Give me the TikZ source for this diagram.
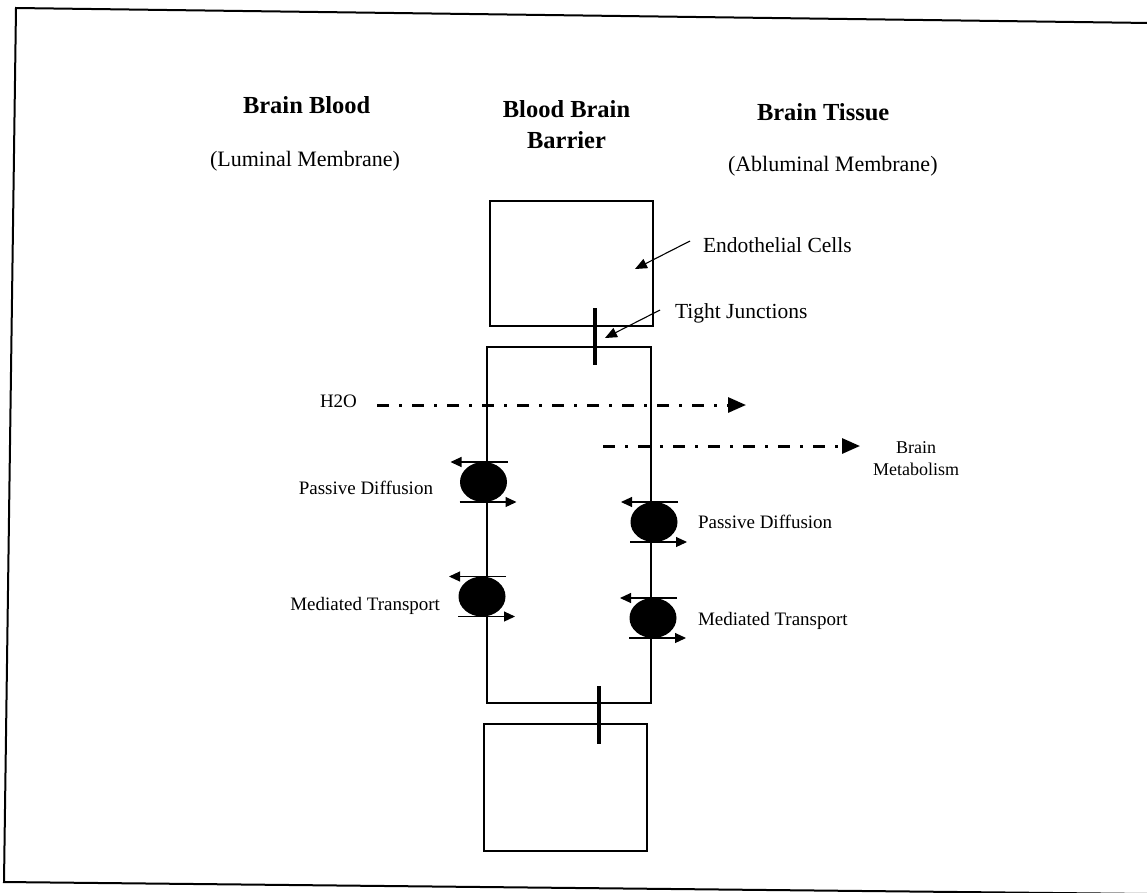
\documentclass[tikz,border=0pt]{standalone}
\usepackage{fontspec}
\setmainfont{Liberation Serif}
\usetikzlibrary{arrows.meta,shapes.geometric}
\begin{document}
\begin{tikzpicture}[x=1pt,y=-1pt,
  cell/.style={draw,line width=1.4pt,inner sep=0pt,outer sep=0pt},
  junc/.style={fill=black,inner sep=0pt,outer sep=0pt,minimum width=4pt},
  chan/.style={ellipse,fill=black,inner sep=0pt,outer sep=0pt,minimum width=47pt,minimum height=40pt},
  carrow/.style={line width=1.1pt,-{Triangle[length=11pt,width=10pt]}},
  ptr/.style={line width=1.1pt,-{Triangle[length=12pt,width=10pt]}},
  flow/.style={line width=3pt,dash pattern=on 12pt off 10pt on 3pt off 10pt,-{Triangle[length=18pt,width=15pt]}},
  head/.style={inner sep=0pt,outer sep=0pt,font=\fontsize{24.5}{31}\selectfont\bfseries},
  sub/.style={inner sep=0pt,outer sep=0pt,font=\fontsize{22}{26}\selectfont},
  lab/.style={inner sep=0pt,outer sep=0pt,font=\fontsize{21.5}{25}\selectfont},
  small/.style={inner sep=0pt,outer sep=0pt,font=\fontsize{19}{22}\selectfont},
  tiny/.style={inner sep=0pt,outer sep=0pt,font=\fontsize{18}{22}\selectfont}
]
\useasboundingbox (0,0) rectangle (1147,892);
% outer frame (slightly skewed scan)
\draw[line width=2pt] (1150,23) -- (16,8) -- (4,882) -- (1150,894);

% headings
\node[head,anchor=base west] (bb) at (243,113) {Brain Blood};
\node[head,anchor=base,align=center] (bbb) at (566.5,148) {Blood Brain\\Barrier};
\node[head,anchor=base west] (bt) at (757,120) {Brain Tissue};
\node[sub,anchor=base west] (lm) at (210,166) {(Luminal Membrane)};
\node[sub,anchor=base west] (am) at (728,171) {(Abluminal Membrane)};

% cells
\node[cell,minimum width=163pt,minimum height=125pt] (topc) at (571.5,263.5) {};
\node[cell,minimum width=164pt,minimum height=356pt] (midc) at (569,525) {};
\node[cell,minimum width=163pt,minimum height=127pt] (botc) at (565.5,787.5) {};

% tight junctions
\node[junc,minimum height=57pt] (tj1) at (595,336.5) {};
\node[junc,minimum height=58pt] (tj2) at (599,715) {};

% labels with pointers
\node[lab,anchor=base west] (ec) at (703,252) {Endothelial Cells};
\node[lab,anchor=base west] (tj) at (675,318) {Tight Junctions};
\coordinate (ecs) at (690,241);
\coordinate (ect) at (635,269);
\coordinate (tjs) at (660,310);
\coordinate (tjt) at (605,338);
\draw[ptr] (ecs) -- (ect);
\draw[ptr] (tjs) -- (tjt);

% flows
\node[small,anchor=base west] (h2o) at (320,407) {H2O};
\coordinate (f1s) at (377,405);
\coordinate (f1e) at (746,405);
\draw[flow] (f1s) -- (f1e);
\node[tiny,anchor=base,align=center] (bm) at (916,475) {Brain\\Metabolism};
\coordinate (f2s) at (603,446);
\coordinate (f2e) at (860,446);
\draw[flow] (f2s) -- (f2e);

% channels
\node[chan] (lpd) at (483.5,482) {};
\node[chan] (lmt) at (482,596.5) {};
\node[chan] (rpd) at (654,522) {};
\node[chan] (rmt) at (653,618) {};
\foreach \c in {lpd,lmt,rpd,rmt}{
  \draw[carrow] ([xshift=24pt]\c.north) -- ([xshift=-33pt]\c.north);
  \draw[carrow] ([xshift=-24pt]\c.south) -- ([xshift=33pt]\c.south);
}
\node[small,anchor=base east] (lpdl) at (433,494) {Passive Diffusion};
\node[small,anchor=base east] (lmtl) at (440,610) {Mediated Transport};
\node[small,anchor=base west] (rpdl) at (698,528) {Passive Diffusion};
\node[small,anchor=base west] (rmtl) at (698,625) {Mediated Transport};
\end{tikzpicture}
\end{document}
